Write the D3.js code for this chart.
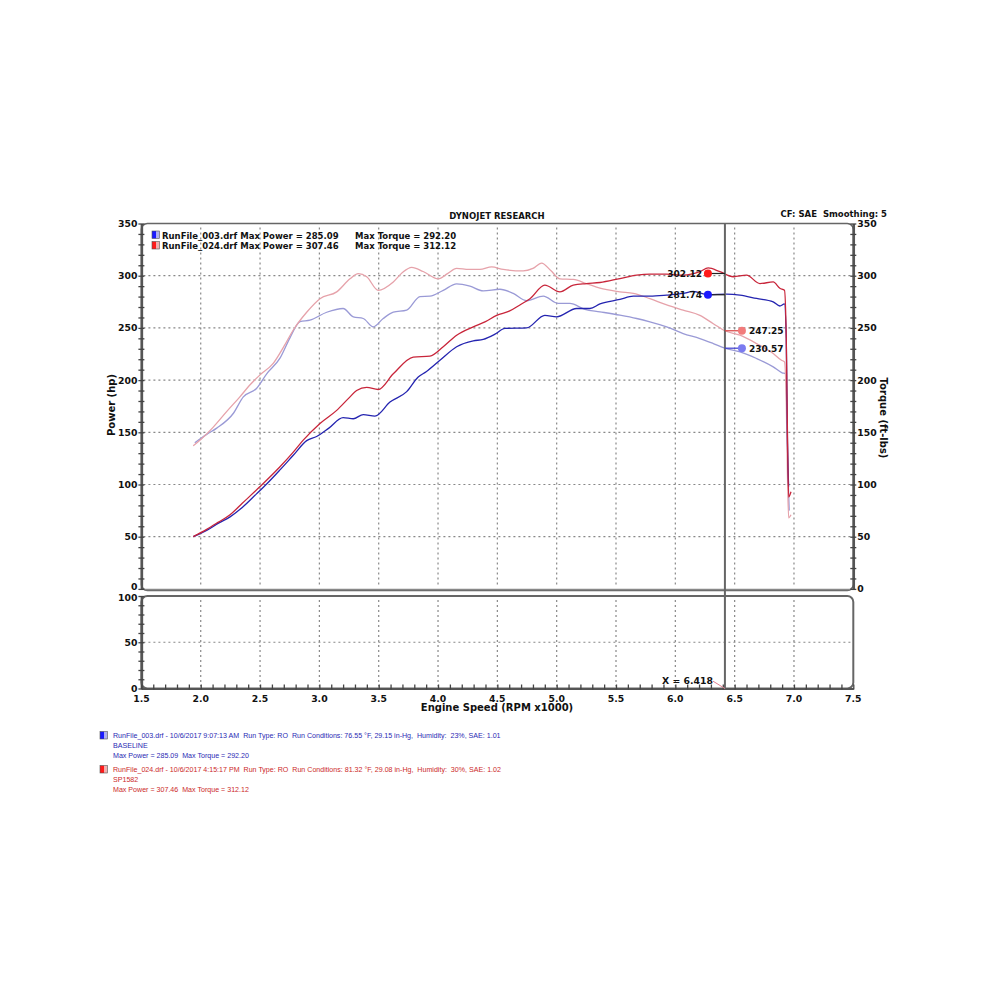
<!DOCTYPE html>
<html><head><meta charset="utf-8">
<script src="https://cdn.jsdelivr.net/npm/d3@7"></script>
<style>body{margin:0;background:#fff}svg{display:block}</style>
</head><body>
<svg id="c" width="1000" height="1000"></svg>
<script>
// ---- data ----
const xTicks = [1.5,2.0,2.5,3.0,3.5,4.0,4.5,5.0,5.5,6.0,6.5,7.0,7.5];
const mainYTicks = [0,50,100,150,200,250,300,350];
const subYTicks = [0,50,100];
const cursorX = 6.418;

const bluePowerX = [1.937,2.05,2.15,2.247,2.35,2.47,2.56,2.668,2.78,2.893,2.977,3.08,3.2,3.286,3.37,3.468,3.595,3.736,3.833,3.9,4.016,4.157,4.297,4.381,4.48,4.564,4.747,4.9,5.0,5.168,5.28,5.365,5.533,5.646,5.786,5.927,6.066,6.15,6.277,6.432,6.545,6.685,6.825,6.881,6.92,6.935,6.945,6.955];
const bluePowerY = [50,56,63,69,78,91,101,114,128,142,146,154,164,163,167,165.5,179,189,203,208,219,232,237.6,239,244,249.5,250,262,260.6,268.6,268.6,273,277.3,280.4,280.4,281.4,283,285,281.7,282.4,281.4,278.2,275,271,273,240,140,98];

const redPowerX = [1.937,2.05,2.15,2.247,2.35,2.5,2.668,2.78,2.864,3.005,3.146,3.25,3.314,3.399,3.496,3.623,3.791,3.932,4.044,4.157,4.297,4.4,4.494,4.6,4.69,4.775,4.9,5.027,5.14,5.25,5.365,5.533,5.674,5.786,5.927,6.066,6.207,6.277,6.376,6.488,6.6,6.713,6.825,6.881,6.92,6.935,6.945,6.955,6.975];
const redPowerY = [50,57,64,71,82,98,117,131,142.5,158.5,171,183,190,193,191,206,222,223,232,243,251,256,262,266,272,278,291,284.5,291,292.5,293.5,297.3,300.5,301.5,301.5,300.5,303.8,307.4,303.8,299,300.5,292.5,294,288,286,240,150,88,93];

const redTorqueX = [1.937,2.0,2.106,2.22,2.33,2.42,2.5,2.611,2.7,2.78,2.893,3.005,3.146,3.258,3.328,3.399,3.496,3.623,3.7,3.778,3.875,4.002,4.08,4.157,4.26,4.353,4.452,4.55,4.718,4.8,4.873,4.95,5.027,5.14,5.25,5.365,5.533,5.646,5.786,5.927,6.066,6.207,6.32,6.418,6.545,6.685,6.825,6.895,6.92,6.935,6.945,6.955,6.975];
const redTorqueY = [137,143,155,170,184,196,205,216,232,248,265,278,284.5,297,302,299,286,294,303,308,304,297,302,307,306,306,308.4,306,304.6,307,312.1,305,297,296.4,292.5,288,284.6,283,278,272,267,262,254,247.25,243,235,225.5,219,217.5,180,110,68,71];

const blueTorqueX = [1.95,2.05,2.135,2.274,2.359,2.47,2.556,2.668,2.75,2.837,2.92,3.062,3.2,3.286,3.37,3.454,3.538,3.623,3.736,3.848,3.932,4.044,4.157,4.269,4.381,4.522,4.634,4.747,4.887,5.013,5.112,5.238,5.365,5.533,5.674,5.786,5.927,6.066,6.207,6.32,6.418,6.545,6.685,6.825,6.9,6.93,6.94,6.95,6.96];
const blueTorqueY = [140,148,154,168,184,192,206,221,240,256,257.4,265,268.6,260.6,259,251,259,265,267,280,280.4,286,292.2,290,285.5,287,283,276,280.4,273.4,273.4,267.7,265.4,262.2,259,255.8,251,244.6,239.8,235,230.57,227,220.7,212.7,207,206,170,110,75];

const cursorValues = [
  {label:"302.12", v:302.12, color:"#ff1a1a", line:"#222", side:"left"},
  {label:"281.74", v:281.74, color:"#1a1aff", line:"#222", side:"left"},
  {label:"247.25", v:247.25, color:"#f27b7b", line:"#d94040", side:"right"},
  {label:"230.57", v:230.57, color:"#7b7bf0", line:"#3a3ad0", side:"right"}
];
const legendLines = [
  {name:"RunFile_003.drf Max Power = 285.09", torque:"Max Torque = 292.20"},
  {name:"RunFile_024.drf Max Power = 307.46", torque:"Max Torque = 312.12"}
];
const footer = [
  {color:"#2a2ab4", lines:["RunFile_003.drf - 10/6/2017 9:07:13 AM  Run Type: RO  Run Conditions: 76.55 °F, 29.15 in-Hg,  Humidity:  23%, SAE: 1.01","BASELINE","Max Power = 285.09  Max Torque = 292.20"]},
  {color:"#cc2a2a", lines:["RunFile_024.drf - 10/6/2017 4:15:17 PM  Run Type: RO  Run Conditions: 81.32 °F, 29.08 in-Hg,  Humidity:  30%, SAE: 1.02","SP1582","Max Power = 307.46  Max Torque = 312.12"]}
];

// ---- layout ----
const svg = d3.select("#c");
const L = 141.4, R = 853.3;
const mainTop = 223.5, mainBot = 588.9;
const subTop = 596, subBot = 688.5;
const x = d3.scaleLinear().domain([1.5,7.5]).range([L,R]);
const y = d3.scaleLinear().domain([0,350]).range([mainBot,mainTop]);
const y2 = d3.scaleLinear().domain([0,100]).range([subBot,subTop]);
const bold = "DejaVu Sans, Verdana, sans-serif";

svg.append("rect").attr("width",1000).attr("height",1000).attr("fill","#fff");

const defs = svg.append("defs");
function grad(id,c1,c2){
  const g = defs.append("linearGradient").attr("id",id).attr("x1","0").attr("x2","1");
  g.append("stop").attr("offset","0").attr("stop-color",c1);
  g.append("stop").attr("offset","0.55").attr("stop-color",c1);
  g.append("stop").attr("offset","0.56").attr("stop-color",c2);
  g.append("stop").attr("offset","1").attr("stop-color",c2);
}
grad("gb","#1a1aff","#b0b0f0"); grad("gr","#ff1a1a","#f0b0b0");

// grid
const gridStyle = g => g.attr("stroke","#888").attr("stroke-width",1.2).attr("stroke-dasharray","2,3");
const gx = xTicks.filter(d=>d>1.5 && d<7.5);
svg.append("g").selectAll("line").data(gx).join("line")
  .attr("x1",d=>x(d)).attr("x2",d=>x(d)).attr("y1",mainTop+4).attr("y2",mainBot-2).call(gridStyle);
svg.append("g").selectAll("line").data(mainYTicks.filter(d=>d>0&&d<350)).join("line")
  .attr("x1",L+2).attr("x2",R-2).attr("y1",d=>y(d)).attr("y2",d=>y(d)).call(gridStyle);
svg.append("g").selectAll("line").data(gx).join("line")
  .attr("x1",d=>x(d)).attr("x2",d=>x(d)).attr("y1",subTop+4).attr("y2",subBot-2).call(gridStyle);
svg.append("g").selectAll("line").data([50]).join("line")
  .attr("x1",L+2).attr("x2",R-2).attr("y1",d=>y2(d)).attr("y2",d=>y2(d)).call(gridStyle);

// frames
svg.append("rect").attr("x",L).attr("y",mainTop).attr("width",R-L).attr("height",mainBot-mainTop+1.5)
  .attr("rx",6).attr("fill","none").attr("stroke","#666").attr("stroke-width",1.6);
svg.append("line").attr("x1",L+3).attr("x2",R-3).attr("y1",mainBot+0.5).attr("y2",mainBot+0.5).attr("stroke","#888").attr("stroke-width",1.5);
svg.append("rect").attr("x",L).attr("y",subTop).attr("width",R-L).attr("height",subBot-subTop)
  .attr("rx",6).attr("fill","none").attr("stroke","#666").attr("stroke-width",2);

// axes
const axStroke = g => { g.select(".domain").attr("stroke","#555").attr("stroke-width",2.5); g.selectAll(".tick line").attr("stroke","#444").attr("stroke-width",1.3); };
const minor = d3.range(0,351,10);
const gL = svg.append("g").attr("transform",`translate(${L},0)`)
  .call(d3.axisLeft(y).tickValues(minor).tickSize(3).tickFormat("").tickSizeOuter(0));
gL.selectAll(".tick line").attr("x2",3).attr("x1",-3);
axStroke(gL);
const gR = svg.append("g").attr("transform",`translate(${R},0)`)
  .call(d3.axisRight(y).tickValues(minor).tickSize(3).tickFormat("").tickSizeOuter(0));
gR.selectAll(".tick line").attr("x1",-3).attr("x2",3);
axStroke(gR);
const gL2 = svg.append("g").attr("transform",`translate(${L},0)`)
  .call(d3.axisLeft(y2).tickValues(d3.range(0,101,10)).tickSize(3).tickFormat("").tickSizeOuter(0));
gL2.selectAll(".tick line").attr("x2",3).attr("x1",-3);
axStroke(gL2);
const gB = svg.append("g").attr("transform",`translate(0,${subBot})`)
  .call(d3.axisBottom(x).tickValues(d3.range(15,76,1).map(d=>d/10)).tickSize(3).tickFormat("").tickSizeOuter(0));
gB.selectAll(".tick line").attr("y1",-4).attr("y2",1);
axStroke(gB); gB.select(".domain").attr("stroke-width",2);

// tick labels
const tl = (sel) => sel.attr("font-family",bold).attr("font-weight","bold").attr("font-size",9.3).attr("fill","#111");
svg.append("g").selectAll("text").data(mainYTicks).join("text")
  .attr("x",L-4).attr("y",d=>y(d)+(d===0?1.5:3.5)).attr("text-anchor","end").text(d=>d).call(tl);
svg.append("g").selectAll("text").data(mainYTicks).join("text")
  .attr("x",R+4).attr("y",d=>y(d)+3.5).attr("text-anchor","start").text(d=>d).call(tl);
svg.append("g").selectAll("text").data(subYTicks).join("text")
  .attr("x",L-4).attr("y",d=>y2(d)+(d===100?5:3.5)).attr("text-anchor","end").text(d=>d).call(tl);
svg.append("g").selectAll("text").data(xTicks).join("text")
  .attr("x",d=>x(d)).attr("y",subBot+13).attr("text-anchor","middle").text(d=>d.toFixed(1)).call(tl);

// titles
svg.append("text").attr("x",497).attr("y",711).attr("text-anchor","middle").text("Engine Speed (RPM x1000)").call(tl).attr("font-size",10);
svg.append("text").attr("transform","translate(115,405) rotate(-90)").attr("text-anchor","middle").text("Power (hp)").call(tl).attr("font-size",10);
svg.append("text").attr("transform","translate(880,418) rotate(90)").attr("text-anchor","middle").text("Torque (ft-lbs)").call(tl).attr("font-size",10);
svg.append("text").attr("x",497).attr("y",219).attr("text-anchor","middle").text("DYNOJET RESEARCH").call(tl).attr("font-size",8.5);
svg.append("text").attr("x",887).attr("y",217).attr("text-anchor","end").attr("xml:space","preserve").style("white-space","pre").text("CF: SAE  Smoothing: 5").call(tl).attr("font-size",8.5);

// legend
legendLines.forEach((d,i)=>{
  const yy = 235 + i*10.5;
  svg.append("rect").attr("x",152).attr("y",yy-4).attr("width",7.5).attr("height",7.5)
    .attr("fill",`url(#${i===0?"gb":"gr"})`).attr("stroke","#555").attr("stroke-width",0.6);
  svg.append("text").attr("x",162).attr("y",yy+3.5).text(d.name).call(tl).attr("font-size",8.5);
  svg.append("text").attr("x",355).attr("y",yy+3.5).text(d.torque).call(tl).attr("font-size",8.5);
});

// curves
const line = d3.line().x(d=>x(d[0])).y(d=>y(d[1])).curve(d3.curveMonotoneX);
const zip = (a,b)=>a.map((v,i)=>[v,b[i]]);
const curves = [
  {xs:blueTorqueX, ys:blueTorqueY, c:"#9a9ad6", w:1.3},
  {xs:redTorqueX, ys:redTorqueY, c:"#e6a2aa", w:1.3},
  {xs:bluePowerX, ys:bluePowerY, c:"#2424b0", w:1.3},
  {xs:redPowerX, ys:redPowerY, c:"#c8253a", w:1.3}
];
svg.append("g").selectAll("path").data(curves).join("path")
  .attr("d",d=>line(zip(d.xs,d.ys))).attr("fill","none")
  .attr("stroke",d=>d.c).attr("stroke-width",d=>d.w).attr("stroke-linejoin","round");

// cursor
svg.append("line").attr("x1",x(cursorX)).attr("x2",x(cursorX)).attr("y1",mainTop).attr("y2",subBot)
  .attr("stroke","#666").attr("stroke-width",2);

// cursor value markers
const off = 17;
cursorValues.forEach(d=>{
  const cx = x(cursorX) + (d.side==="left" ? -off : off);
  svg.append("line").attr("x1",cx).attr("x2",x(cursorX)).attr("y1",y(d.v)).attr("y2",y(d.v))
    .attr("stroke",d.line).attr("stroke-width",1.2);
  svg.append("circle").attr("cx",cx).attr("cy",y(d.v)).attr("r",4).attr("fill",d.color);
  svg.append("text").attr("x",d.side==="left"?cx-6:cx+7).attr("y",y(d.v)+3.5)
    .attr("text-anchor",d.side==="left"?"end":"start").text(d.label).call(tl).attr("font-size",9);
});

// X = label in lower panel
svg.append("line").attr("x1",x(cursorX)-12).attr("x2",x(cursorX)).attr("y1",y2(8)).attr("y2",y2(0))
  .attr("stroke","#e08090").attr("stroke-width",1);
svg.append("text").attr("x",x(cursorX)-12).attr("y",y2(8)+3).attr("text-anchor","end")
  .text("X = " + cursorX.toFixed(3)).call(tl).attr("font-size",9.3);

// footer
footer.forEach((f,i)=>{
  const y0 = 738 + i*34;
  svg.append("rect").attr("x",100).attr("y",y0-6.5).attr("width",7.5).attr("height",7.5)
    .attr("fill",`url(#${i===0?"gb":"gr"})`).attr("stroke","#555").attr("stroke-width",0.6);
  f.lines.forEach((t,j)=>{
    svg.append("text").attr("x",113).attr("y",y0 + j*9.8).attr("font-family","Liberation Sans, Arial, sans-serif")
      .attr("font-size",7.1).attr("fill",f.color).attr("xml:space","preserve").style("white-space","pre").text(t);
  });
});
</script>
</body></html>
